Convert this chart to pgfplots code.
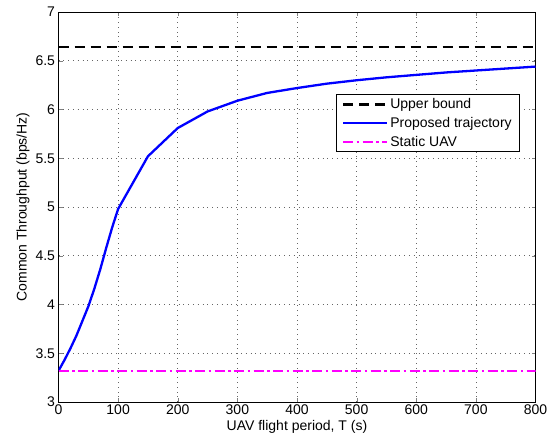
\documentclass[border=0pt]{standalone}
\usepackage{pgfplots}
\pgfplotsset{compat=1.18}
\usepackage{fontspec}
\setmainfont{Liberation Sans}
\usetikzlibrary{calc}
\definecolor{mblue}{rgb}{0,0,1}
\definecolor{mmag}{rgb}{1,0,1}
\begin{document}
\begin{tikzpicture}
\begin{axis}[
  scale only axis,
  width=477pt, height=390pt,
  xmin=0, xmax=800, ymin=3, ymax=7,
  xtick={0,100,...,800}, ytick={3,3.5,...,7},
  yticklabel style={/pgf/number format/fixed},
  /pgf/number format/assume math mode=true,
  tick label style={font=\fontsize{14}{16}\selectfont},
  label style={font=\fontsize{14}{16}\selectfont},
  xlabel={UAV flight period, T (s)},
  ylabel={Common Throughput (bps/Hz)},
  xticklabel style={inner sep=3pt},
  xlabel style={inner sep=2.5pt},
  ylabel style={yshift=-1pt},
  tick align=inside, tick pos=both,
  major tick length=4pt,
  grid=major,
  major grid style={black!60, line width=0.6pt, dash pattern=on 0.8pt off 4pt},
  axis line style={line width=0.8pt},
  legend style={at={(rel axis cs:0.9675,0.789)}, anchor=north east,
    font=\fontsize{14}{16}\selectfont, draw=black, line width=0.6pt,
    inner xsep=6pt, inner ysep=2pt, row sep=3pt},
  legend cell align=left,
  legend image code/.code={\draw[#1] (0pt,0pt) -- (44pt,0pt);},
]
\addplot[black, line width=2.3pt, dash pattern=on 10pt off 6pt] coordinates {(0,6.64) (800,6.64)};
\addlegendentry{Upper bound}
\addplot[mblue, line width=2.3pt, line join=round] coordinates {
(0,3.32) (10,3.43) (20,3.55) (30,3.68) (40,3.83) (50,3.98) (60,4.16) (70,4.36) (80,4.58) (90,4.79) (100,4.98)
(150,5.52) (200,5.81) (250,5.98) (300,6.09) (350,6.17) (400,6.22) (450,6.265) (500,6.30) (550,6.33) (600,6.355) (650,6.38) (700,6.40) (750,6.42) (800,6.44)};
\addlegendentry{Proposed trajectory}
\addplot[mmag, line width=2.3pt, dash pattern=on 10pt off 3.5pt on 2.5pt off 3.5pt] coordinates {(0,3.32) (800,3.32)};
\addlegendentry{Static UAV}
\end{axis}
\pgfresetboundingbox
\path[use as bounding box] ($(current axis.south west)+(-58.5pt,-40pt)$) rectangle ($(current axis.north east)+(13.5pt,12pt)$);
\end{tikzpicture}
\end{document}
